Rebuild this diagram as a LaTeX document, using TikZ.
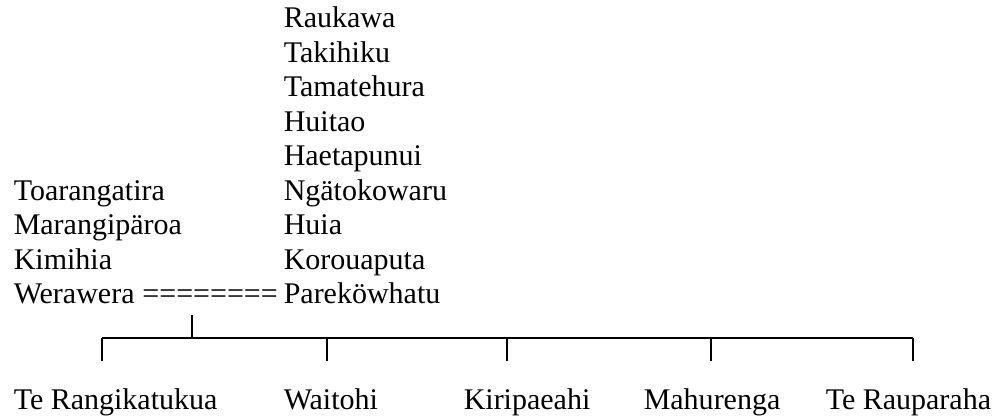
\documentclass[tikz,border=0pt]{standalone}
\usepackage{fontspec}
\setmainfont{Liberation Serif}
\usetikzlibrary{positioning}

\begin{document}
\begin{tikzpicture}[x=1pt, y=-1pt, line width=1.5pt,
    every node/.style={anchor=base west, inner sep=0pt,
      font=\fontsize{30}{34.5}\selectfont}]
      \useasboundingbox (0,0) rectangle (1003,419);
      % Raukawa down to Parekowhatu
      \foreach \nm [count=\i from 0] in {Raukawa, Takihiku, Tamatehura, Huitao, Haetapunui,
          Ngätokowaru, Huia, Korouaputa, Pareköwhatu} {
        \node (r\i) at (283, 28+34.5*\i) {\nm};
      }
      \foreach \nm [count=\i from 5] in {Toarangatira, Marangipäroa, Kimihia, Werawera} {
        \node (l\i) at (13, 28+34.5*\i) {\nm};
      }
      \node (eq) at (141.7, 304) {========};
      % children
      \foreach \nm/\x/\tx [count=\i] in {Te Rangikatukua/13/102, Waitohi/283/327,
          Kiripaeahi/463/507, Mahurenga/643/711, Te Rauparaha/825/913} {
        \node (c\i) at (\x, 409) {\nm};
        \coordinate (t\i) at (\tx, 338);
        \coordinate (b\i) at (\tx, 361);
        \draw (t\i) -- (b\i);
      }
      \coordinate (m) at (192, 315);
      \draw (m) -- (m |- t1);
      \draw (t1) -- (t5);
    \end{tikzpicture}
\end{document}
